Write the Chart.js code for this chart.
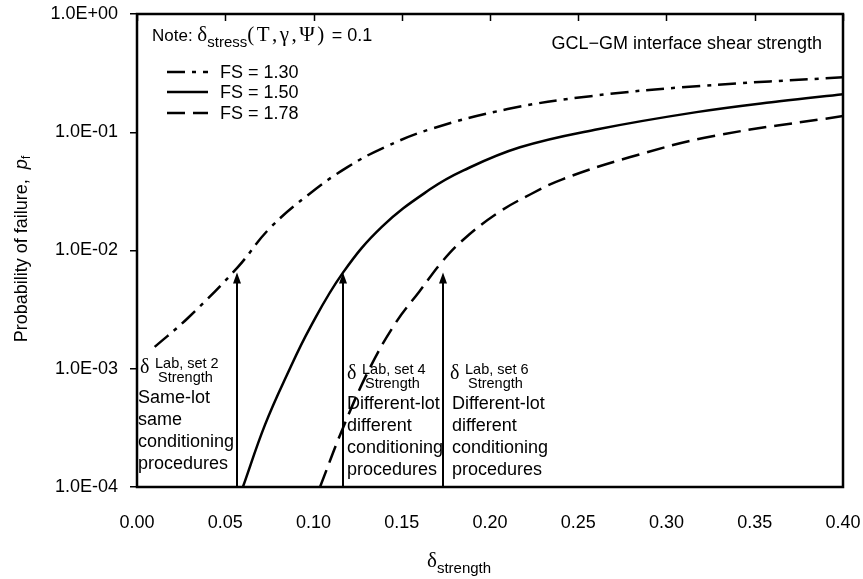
<!DOCTYPE html>
<html>
<head>
<meta charset="utf-8">
<script src="https://cdn.jsdelivr.net/npm/chart.js@4.4.0/dist/chart.umd.min.js"></script>
<style>
  html, body { margin: 0; padding: 0; background: #fff; }
  #wrap { width: 863px; height: 579px; }
</style>
</head>
<body>
<div id="wrap"><canvas id="pfChart" width="863" height="579"></canvas></div>
<script>
// axis ticks
const xTicks = [0, 0.05, 0.10, 0.15, 0.20, 0.25, 0.30, 0.35, 0.40];
const yTicks = [1e-4, 1e-3, 1e-2, 1e-1, 1];

// series
const seriesLabels = ['FS = 1.30', 'FS = 1.50', 'FS = 1.78'];
const deltaFs130 = [0.010, 0.029, 0.057, 0.075, 0.098, 0.119, 0.139, 0.166, 0.210, 0.257, 0.317, 0.400];
const pfFs130    = [0.00153, 0.0027, 0.0072, 0.0153, 0.0304, 0.0505, 0.0731, 0.106, 0.157, 0.202, 0.245, 0.292];
const deltaFs150 = [0.060, 0.0725, 0.085, 0.098, 0.1167, 0.139, 0.166, 0.185, 0.217, 0.261, 0.317, 0.364, 0.400];
const pfFs150    = [0.0001, 0.000335, 0.00089, 0.00222, 0.0065, 0.016, 0.0329, 0.0476, 0.0746, 0.106, 0.148, 0.183, 0.210];
const deltaFs178 = [0.1037, 0.1167, 0.132, 0.147, 0.160, 0.173, 0.185, 0.204, 0.223, 0.241, 0.279, 0.326, 0.400];
const pfFs178    = [0.0001, 0.000316, 0.00102, 0.0025, 0.0045, 0.0081, 0.0124, 0.0206, 0.0299, 0.040, 0.0614, 0.0925, 0.137];

// lab values marked with arrows
const arrowX   = [0.0567, 0.1167, 0.1734];
const arrowTop = [0.0065, 0.0065, 0.0065];

const SANS = "'Liberation Sans', Arial, sans-serif";
const SERIF = "'Liberation Serif', 'Times New Roman', serif";

function toPoints(xs, ys) {
    return xs.map((v, i) => ({ x: v, y: ys[i] }));
}

function sciLabel(v) {
    const e = Math.round(Math.log10(v));
    const sign = e < 0 ? '-' : '+';
    return '1.0E' + sign + String(Math.abs(e)).padStart(2, '0');
}

// draws text pieces one after another on a baseline
function drawRich(ctx, x, y, parts) {
    ctx.textBaseline = 'alphabetic';
    ctx.textAlign = 'left';
    let cx = x;
    parts.forEach(p => {
        ctx.font = p.font;
        if (p.spacing) {
            // glyph by glyph, with extra room between them
            for (const ch of p.text) {
                ctx.fillText(ch, cx, y + (p.dy || 0));
                cx += ctx.measureText(ch).width + p.spacing;
            }
        } else {
            ctx.fillText(p.text, cx, y + (p.dy || 0));
            cx += ctx.measureText(p.text).width;
        }
    });
    return cx;
}

function labBlock(ctx, x, yb, setNo, lines, linesX, firstLine) {
    ctx.font = '20px ' + SERIF;
    ctx.textBaseline = 'alphabetic';
    ctx.textAlign = 'left';
    ctx.fillText('\u03b4', x, yb);
    ctx.font = '14.5px ' + SANS;
    ctx.fillText('Lab, set ' + setNo, x + 15, yb - 5);
    ctx.fillText('Strength', x + 18, yb + 9);
    ctx.font = '18px ' + SANS;
    lines.forEach((t, i) => ctx.fillText(t, linesX, firstLine + i * 22));
}

const annotationPlugin = {
    id: 'annotations',
    afterDraw(chart) {
        const ctx = chart.ctx;
        const a = chart.chartArea;
        const xs = chart.scales.x, ys = chart.scales.y;
        ctx.save();
        ctx.strokeStyle = '#000';
        ctx.fillStyle = '#000';

        // frame
        ctx.lineWidth = 2.5;
        ctx.strokeRect(a.left, a.top, a.right - a.left, a.bottom - a.top);

        // inward ticks on the top edge
        ctx.lineWidth = 1.5;
        xTicks.forEach(v => {
            const px = Math.round(xs.getPixelForValue(v)) + 0.5;
            ctx.beginPath();
            ctx.moveTo(px, a.top);
            ctx.lineTo(px, a.top + 7);
            ctx.stroke();
        });

        // arrows
        arrowX.forEach((v, i) => {
            const px = Math.round(xs.getPixelForValue(v));
            const tip = ys.getPixelForValue(arrowTop[i]);
            ctx.lineWidth = 2;
            ctx.beginPath();
            ctx.moveTo(px, a.bottom);
            ctx.lineTo(px, tip + 8);
            ctx.stroke();
            ctx.beginPath();
            ctx.moveTo(px, tip);
            ctx.lineTo(px - 4, tip + 11);
            ctx.lineTo(px + 4, tip + 11);
            ctx.closePath();
            ctx.fill();
        });

        // text blocks under the arrows
        labBlock(ctx, 140, 373, 2, ['Same-lot', 'same', 'conditioning', 'procedures'], 138, 403);
        labBlock(ctx, 347, 379, 4, ['Different-lot', 'different', 'conditioning', 'procedures'], 347, 409);
        labBlock(ctx, 450, 379, 6, ['Different-lot', 'different', 'conditioning', 'procedures'], 452, 409);

        // note
        drawRich(ctx, 152, 41, [
            { text: 'Note: ', font: '17px ' + SANS },
            { text: '\u03b4', font: '21px ' + SERIF },
            { text: 'stress', font: '15px ' + SANS, dy: 6 },
            { text: '(T,\u03b3,\u03a8)', font: '21px ' + SERIF, spacing: 2.5 },
            { text: ' = 0.1', font: '18px ' + SANS }
        ]);

        // legend
        const legY = [72, 92, 113];
        chart.data.datasets.forEach((ds, i) => {
            ctx.lineWidth = ds.borderWidth;
            ctx.setLineDash(ds.borderDash || []);
            ctx.beginPath();
            ctx.moveTo(167, legY[i]);
            ctx.lineTo(208, legY[i]);
            ctx.stroke();
            ctx.setLineDash([]);
            ctx.font = '18px ' + SANS;
            ctx.textAlign = 'left';
            ctx.textBaseline = 'middle';
            ctx.fillText(ds.label, 220, legY[i] + 1);
        });

        // title at top right
        ctx.font = '18px ' + SANS;
        ctx.textAlign = 'right';
        ctx.textBaseline = 'alphabetic';
        ctx.fillText('GCL\u2212GM interface shear strength', 822, 49);

        // x axis title
        drawRich(ctx, 427, 567, [
            { text: '\u03b4', font: '21px ' + SERIF },
            { text: 'strength', font: '15px ' + SANS, dy: 6 }
        ]);

        // y axis title
        ctx.save();
        ctx.translate(27, 249);
        ctx.rotate(-Math.PI / 2);
        ctx.font = '18px ' + SANS;
        const main = 'Probability of failure,  ';
        const w = ctx.measureText(main).width;
        ctx.font = 'italic 18px ' + SANS;
        const wp = ctx.measureText('p').width;
        ctx.font = '12px ' + SANS;
        const wf = ctx.measureText('f').width;
        drawRich(ctx, -(w + wp + wf) / 2, 0, [
            { text: main, font: '18px ' + SANS },
            { text: 'p', font: 'italic 18px ' + SANS },
            { text: 'f', font: '12px ' + SANS, dy: 3 }
        ]);
        ctx.restore();

        ctx.restore();
    }
};

const pfChart = new Chart(document.getElementById('pfChart'), {
    type: 'line',
    data: {
        datasets: [{
            label: seriesLabels[0],
            data: toPoints(deltaFs130, pfFs130),
            borderColor: '#000',
            borderWidth: 2.5,
            borderDash: [18, 7, 4, 7]
        }, {
            label: seriesLabels[1],
            data: toPoints(deltaFs150, pfFs150),
            borderColor: '#000',
            borderWidth: 2.5
        }, {
            label: seriesLabels[2],
            data: toPoints(deltaFs178, pfFs178),
            borderColor: '#000',
            borderWidth: 2.5,
            borderDash: [18, 8]
        }]
    },
    options: {
        responsive: false,
        animation: false,
        devicePixelRatio: 1,
        elements: { point: { radius: 0 }, line: { tension: 0.4 } },
        layout: { padding: { left: 0, top: 14, right: 20, bottom: 0 } },
        plugins: {
            legend: { display: false },
            tooltip: { enabled: false }
        },
        scales: {
            x: {
                type: 'linear',
                min: 0,
                max: 0.4,
                afterBuildTicks: s => { s.ticks = xTicks.map(v => ({ value: v })); },
                afterFit: s => { s.height = 92; s.paddingLeft = 0; s.paddingRight = 0; },
                grid: { drawOnChartArea: false, drawTicks: false },
                border: { display: false },
                ticks: {
                    color: '#000',
                    font: { family: SANS, size: 18 },
                    padding: 25,
                    maxRotation: 0,
                    callback: v => v.toFixed(2)
                }
            },
            y: {
                type: 'logarithmic',
                min: 1e-4,
                max: 1,
                afterBuildTicks: s => { s.ticks = yTicks.map(v => ({ value: v })); },
                afterFit: s => { s.width = 137; s.paddingTop = 0; s.paddingBottom = 0; },
                grid: { drawOnChartArea: false, drawTicks: true, tickLength: 7, color: '#000', lineWidth: 1.5 },
                border: { display: false },
                ticks: {
                    color: '#000',
                    font: { family: SANS, size: 18 },
                    padding: 12,
                    callback: v => sciLabel(v)
                }
            }
        }
    },
    plugins: [annotationPlugin]
});
</script>
</body>
</html>
